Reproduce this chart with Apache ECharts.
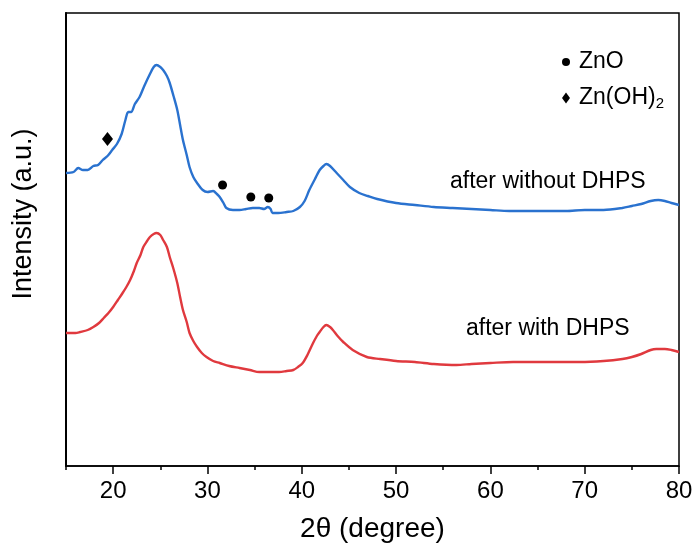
<!DOCTYPE html>
<html>
<head>
<meta charset="utf-8">
<title>XRD patterns</title>
<script src="https://cdn.jsdelivr.net/npm/echarts@6/dist/echarts.min.js"></script>
<style>
  html, body { margin: 0; padding: 0; background: #fff; }
  #chart { width: 697px; height: 549px; }
</style>
</head>
<body>
<div id="chart"></div>
<script>
// 2θ positions (degree) and intensities (a.u., offset per pattern)
const twoThetaWithout = [15, 15.8, 16.3, 16.8, 17.3, 17.9, 18.4, 18.9, 19.4, 19.9, 20.4, 20.9, 21.3, 21.6, 21.9, 22.3, 22.8, 23.3, 23.9, 24.3, 24.6, 25.0, 25.3, 25.7, 26.0, 26.4, 26.8, 27.1, 27.4, 27.8, 28.1, 28.5, 28.9, 29.5, 30.0, 30.6, 31.0, 31.3, 31.7, 32.0, 32.7, 33.4, 34.1, 34.8, 35.5, 36.0, 36.4, 36.7, 36.9, 37.5, 38.4, 39.1, 39.8, 40.3, 40.8, 41.4, 41.9, 42.3, 42.6, 43.0, 43.7, 44.4, 45.1, 46.1, 47, 48, 50, 52, 54, 56, 58, 60, 62, 64, 66, 68, 70, 72, 74, 75, 76, 77, 77.8, 78.5, 79.2, 80];
const intensityWithout = [293, 294, 298, 296, 296, 300, 301, 306, 310, 316, 322, 332, 346, 354, 354, 362, 369, 380, 392, 399, 401, 399, 396, 390, 383, 370, 356, 341, 326, 311, 299, 289, 283, 276, 274, 275, 272, 269, 263, 258, 256, 256, 257, 258, 258, 257, 259, 257, 253, 253, 254, 255, 259, 265, 276, 287, 296, 300, 302, 300, 293, 286, 279, 273, 270, 267, 263, 261, 259, 258, 257, 256, 255, 255, 255, 255, 256, 256, 258, 260, 262, 265, 266, 265, 263, 261];

const twoThetaWith = [15, 16, 16.5, 17.3, 17.9, 18.5, 19, 19.5, 20, 20.5, 21, 21.4, 21.8, 22.2, 22.5, 22.9, 23.2, 23.6, 23.9, 24.3, 24.6, 25.0, 25.3, 25.7, 26.0, 26.4, 26.8, 27.1, 27.4, 27.8, 28.1, 28.5, 28.9, 29.4, 29.9, 30.6, 31.3, 32.3, 33.4, 34.5, 35.5, 36.5, 37.6, 38.4, 39.1, 39.6, 40.1, 40.6, 41.2, 41.6, 41.9, 42.3, 42.6, 43.0, 43.3, 43.8, 44.4, 45.4, 46.9, 48.3, 50, 52, 54, 56.4, 58, 60, 62.4, 65, 67, 69.5, 72, 74, 75, 76, 77, 77.6, 78.5, 79.2, 80];
const intensityWith = [133, 133, 134, 136, 139, 143, 148, 153, 159, 166, 173, 179, 186, 195, 203, 211, 219, 225, 229, 232, 233, 231, 226, 219, 209, 197, 183, 169, 156, 144, 133, 125, 119, 113, 109, 105, 103, 100, 98, 96, 94, 94, 94, 95, 96, 99, 103, 111, 123, 130, 134, 139, 141, 139, 136, 130, 124, 116, 109, 107, 105, 104, 102, 101, 102, 103, 104, 104, 104, 104, 105, 107, 109, 112, 116, 117, 117, 116, 114];

// phase reflection markers
const znoPeaks2Theta = [31.6, 34.6, 36.5];
const znoPeakHeights = [281, 269, 268];
const znOH2Peaks2Theta = [19.4];
const znOH2PeakHeights = [327];

const majorTicks = [20, 30, 40, 50, 60, 70, 80];
const minorTicks = [15, 25, 35, 45, 55, 65, 75];

const FONT = 'Arial, "Liberation Sans", sans-serif';
const zip = (xs, ys) => xs.map((x, i) => [x, ys[i]]);

const chart = echarts.init(document.getElementById('chart'));

chart.setOption({
  animation: false,
  backgroundColor: '#ffffff',
  grid: {
    left: 66, right: 18, top: 13, bottom: 83,
    show: true, borderColor: '#000', borderWidth: 1.5
  },
  legend: {
    orient: 'vertical',
    left: 557, top: 44,
    itemWidth: 8, itemHeight: 11,
    itemGap: 10,
    data: [
      { name: 'ZnO', icon: 'circle', itemStyle: { color: '#000' } },
      { name: 'Zn(OH)2', icon: 'diamond', itemStyle: { color: '#000' } }
    ],
    formatter: function (name) {
      return name === 'Zn(OH)2' ? 'Zn(OH){sub|2}' : name;
    },
    textStyle: {
      fontFamily: FONT, fontSize: 23, color: '#000', lineHeight: 26,
      padding: [0, 0, 0, 4],
      rich: {
        sub: { fontFamily: FONT, fontSize: 15, color: '#000', verticalAlign: 'bottom', padding: [12, 0, 0, 0] }
      }
    }
  },
  xAxis: [
    {
      type: 'value', min: 15, max: 80,
      axisLine: { show: true, lineStyle: { color: '#000', width: 1.5 } },
      axisTick: { show: true, length: 8, customValues: majorTicks, lineStyle: { color: '#000', width: 1.5 } },
      axisLabel: { customValues: majorTicks, margin: 13, fontFamily: FONT, fontSize: 24, color: '#000' },
      splitLine: { show: false },
      name: '2θ (degree)', nameLocation: 'middle', nameGap: 49,
      nameTextStyle: { fontFamily: FONT, fontSize: 28, color: '#000' }
    },
    {
      type: 'value', min: 15, max: 80, position: 'bottom',
      axisLine: { show: false },
      axisTick: { show: true, length: 4, customValues: minorTicks, lineStyle: { color: '#000', width: 1.5 } },
      axisLabel: { show: false },
      splitLine: { show: false }
    }
  ],
  yAxis: {
    type: 'value', min: 0, max: 453,
    axisLine: { show: true, lineStyle: { color: '#000', width: 2 } },
    axisTick: { show: false },
    axisLabel: { show: false },
    splitLine: { show: false }
  },
  graphic: [
    {
      type: 'text', x: 24, y: 214, rotation: Math.PI / 2,
      style: { text: 'Intensity (a.u.)', fontFamily: FONT, fontSize: 27, fill: '#000', align: 'center', verticalAlign: 'middle' }
    },
    {
      type: 'text', x: 450, y: 182,
      style: { text: 'after without DHPS', fontFamily: FONT, fontSize: 23, fill: '#000', align: 'left', verticalAlign: 'middle' }
    },
    {
      type: 'text', x: 466, y: 329,
      style: { text: 'after with DHPS', fontFamily: FONT, fontSize: 23, fill: '#000', align: 'left', verticalAlign: 'middle' }
    }
  ],
  series: [
    {
      name: 'after without DHPS', type: 'line', data: zip(twoThetaWithout, intensityWithout),
      showSymbol: false, smooth: 0.3,
      lineStyle: { color: '#2a72cf', width: 2.4 }, itemStyle: { color: '#2a72cf' }
    },
    {
      name: 'after with DHPS', type: 'line', data: zip(twoThetaWith, intensityWith),
      showSymbol: false, smooth: 0.3,
      lineStyle: { color: '#e0393e', width: 2.4 }, itemStyle: { color: '#e0393e' }
    },
    {
      name: 'ZnO', type: 'scatter', data: zip(znoPeaks2Theta, znoPeakHeights),
      symbol: 'circle', symbolSize: 9, itemStyle: { color: '#000', opacity: 1 }
    },
    {
      name: 'Zn(OH)2', type: 'scatter', data: zip(znOH2Peaks2Theta, znOH2PeakHeights),
      symbol: 'diamond', symbolSize: [11, 14], itemStyle: { color: '#000', opacity: 1 }
    }
  ]
});
</script>
</body>
</html>
